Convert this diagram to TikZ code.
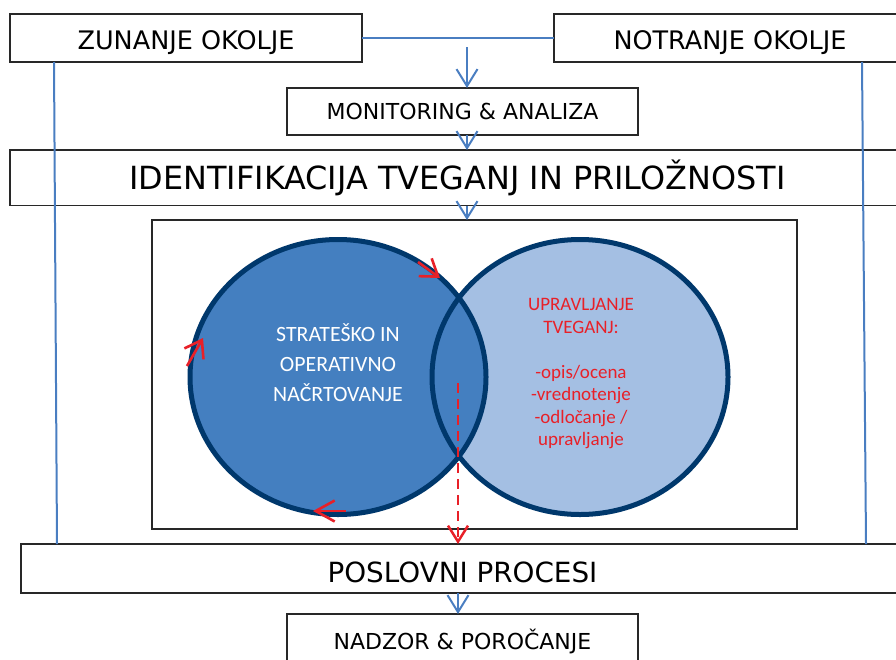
\documentclass[tikz,border=0pt]{standalone}
\usepackage{fontspec}
\setmainfont{DejaVu Sans}
\newfontfamily\carl{Carlito}
\usetikzlibrary{arrows.meta}
\definecolor{bluearr}{RGB}{74,126,193}
\definecolor{navy}{RGB}{0,56,108}
\definecolor{midblue}{RGB}{68,127,192}
\definecolor{lightblue}{RGB}{164,191,227}
\definecolor{redc}{RGB}{232,32,40}
\definecolor{boxline}{RGB}{40,40,40}
\begin{document}
\begin{tikzpicture}[x=1pt,y=-1pt,
  box/.style={draw=boxline, line width=1.3pt, fill=white, inner sep=0pt, outer sep=0pt, anchor=north west},
  fs/.style={font=\fontsize{#1}{#1}\selectfont},
  blueline/.style={draw=bluearr, line width=2pt},
  bluearrow/.style={draw=bluearr, line width=2pt, -{Straight Barb[length=17pt,width=21pt]}},
  redarrow/.style={draw=redc, line width=2.6pt, -{Straight Barb[length=16pt,width=22pt]}}
]
\useasboundingbox (0,0) rectangle (896,659);
\clip (0,0) rectangle (896,659);
% boxes
\node[box, minimum width=352pt, minimum height=48pt, fs=25.5, text height=22.6pt, text depth=0pt] (zun) at (10,14) {ZUNANJE OKOLJE};
\node[box, minimum width=352pt, minimum height=48pt, fs=25.5, text height=22.6pt, text depth=0pt] (notr) at (554,14) {NOTRANJE OKOLJE};
\node[box, minimum width=351pt, minimum height=47pt, fs=22] (mon) at (287,88) {MONITORING \& ANALIZA};
\node[box, minimum width=895pt, minimum height=55.5pt, fs=31.9] (ident) at (10,150) {IDENTIFIKACIJA TVEGANJ IN PRILOŽNOSTI};
\node[box, minimum width=645pt, minimum height=309pt] (inner) at (152,220) {};
\node[box, minimum width=883pt, minimum height=49pt, fs=27.8, text height=28pt, text depth=0pt] (posl) at (21,544) {POSLOVNI PROCESI};
\node[box, minimum width=351pt, minimum height=54pt, fs=22] (nadz) at (287,614) {NADZOR \& POROČANJE};
% circles
\fill[lightblue] (580,377) ellipse [x radius=148, y radius=137.5];
\fill[midblue] (338,377) ellipse [x radius=148, y radius=137.5];
\draw[navy, line width=5pt] (580,377) ellipse [x radius=148, y radius=137.5];
\draw[navy, line width=5pt] (338,377) ellipse [x radius=148, y radius=137.5];
\node[text=white, font=\carl\fontsize{21.8}{30}\selectfont, align=center] (strat) at (338,363) {STRATEŠKO IN\\OPERATIVNO\\NAČRTOVANJE};
\node[text=redc, font=\carl\fontsize{19}{22.5}\selectfont, align=center] (upr) at (581,374) {UPRAVLJANJE\\TVEGANJ:\\~\\-opis/ocena\\-vrednotenje\\-odločanje /\\upravljanje};
% red cycle arrows
\coordinate (c1a) at (418,262); \coordinate (c1b) at (440,278);
\coordinate (c2a) at (187,366); \coordinate (c2b) at (203,338);
\coordinate (c3a) at (346,511); \coordinate (c3b) at (313,511);
\draw[redarrow] (c1a) -- (c1b);
\draw[redarrow] (c2a) -- (c2b);
\draw[redarrow, -{Straight Barb[length=19pt,width=21pt]}] (c3a) -- (c3b);
% red dashed arrow
\coordinate (dstart) at (458,383);
\draw[draw=redc, line width=2.5pt, dash pattern=on 10pt off 6pt, -{Straight Barb[length=16pt,width=20pt]}] (dstart) -- (posl.north -| dstart);
% blue connectors
\draw[blueline] (zun.east) -- (notr.west);
\coordinate (a0) at (467,47);
\coordinate (b0) at (458,593);
\draw[bluearrow] (a0) -- (a0 |- mon.north);
\draw[bluearrow] (mon.south -| a0) -- (ident.north -| a0);
\draw[bluearrow] (ident.south -| a0) -- (inner.north -| a0);
\draw[bluearrow] (b0) -- (nadz.north -| b0);
\coordinate (l1) at (54,62); \coordinate (l2) at (57,544);
\coordinate (r1) at (862,62); \coordinate (r2) at (866,544);
\draw[blueline] (l1) -- (l2);
\draw[blueline] (r1) -- (r2);
\end{tikzpicture}
\end{document}
